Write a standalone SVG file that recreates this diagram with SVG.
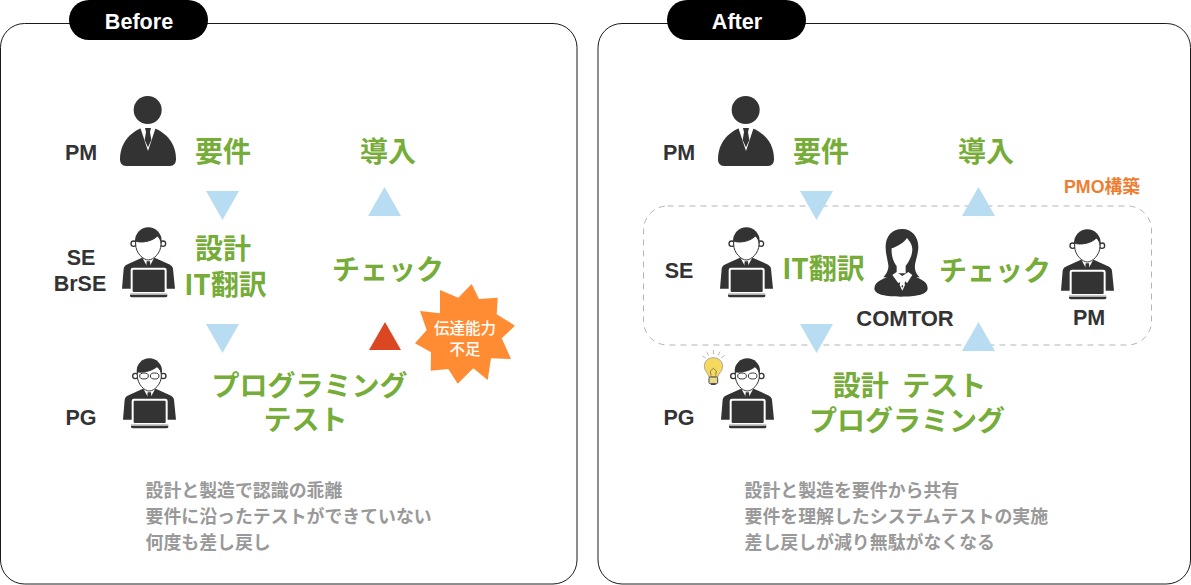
<svg xmlns="http://www.w3.org/2000/svg" width="1191" height="585" viewBox="0 0 1191 585">
<style>
.panel{fill:#fff;stroke:#000;stroke-width:.9}
.pill{fill:#000}
.pt{font:bold 21.600px "Liberation Sans",Arial,sans-serif;fill:#fff;text-anchor:middle}
.role{font:bold 21.500px "Liberation Sans",Arial,sans-serif;fill:#333;text-anchor:middle}
.step{font:bold 28px "Noto Sans CJK JP",sans-serif;fill:#76ac38;text-anchor:middle}
.note{font:bold 17.900px "Noto Sans CJK JP",sans-serif;fill:#999}
.arr{fill:#b8dcf1}
.d{fill:#333}
.w{fill:#fff}
</style>
<defs>
<g id="body">
<path class="d" d="M0 185L5 125Q6 115 20 110L60 92L79 100L98 92L138 110Q152 116 153 125L159 185Z"/>
<path class="w" d="M60 90L79 125L98 90L98 70L60 70Z"/>
<path class="d" d="M74 103L84 103L86 125L79 136L72 125Z"/>
<rect class="w" x="26" y="122" width="108" height="78" rx="7"/>
<rect class="d" x="32" y="128" width="96" height="67" rx="3"/>
<rect x="24" y="198" width="112" height="5" fill="#ccc"/>
<path class="d" d="M24 203H136V207Q136 211 130 211H30Q24 211 24 207Z"/>
</g>
<g id="se">
<use href="#body"/>
<circle cx="35" cy="50" r="8" fill="#fff" stroke="#333" stroke-width="4"/>
<circle cx="123" cy="50" r="8" fill="#fff" stroke="#333" stroke-width="4"/>
<ellipse class="d" cx="79" cy="42" rx="40" ry="41"/>
<path fill="#fff" stroke="#333" stroke-width="3" d="M41 42C52 48 88 46 106 27C113 33 117 40 117 52C117 78 94 99 79 99C64 99 41 78 41 52Z"/>
</g>
<g id="pg">
<use href="#body"/>
<circle cx="37" cy="54" r="8" fill="#fff" stroke="#333" stroke-width="4"/>
<circle cx="121" cy="54" r="8" fill="#fff" stroke="#333" stroke-width="4"/>
<ellipse class="d" cx="79" cy="38" rx="38" ry="37"/>
<path fill="#fff" stroke="#333" stroke-width="3" d="M43 42C56 44 86 40 102 26C111 32 115 40 115 54C115 78 94 99 79 99C64 99 43 78 43 54Z"/>
<g fill="#fff" stroke="#333" stroke-width="3">
<ellipse cx="63" cy="54" rx="13" ry="9"/>
<ellipse cx="95" cy="54" rx="13" ry="9"/>
</g>
</g>
<g id="pm">
<circle class="d" cx="83" cy="42" r="42"/>
<path class="d" d="M0 190C0 140 30 110 66 95L100 95C138 110 168 140 168 190Q168 210 150 210H18Q0 210 0 190Z"/>
<path class="w" d="M60 92L84 165L108 92Z"/>
<path class="d" d="M75 96H93L90 108L94 132L84 154L74 132L78 108Z"/>
</g>
</defs>

<g id="before-panel">
<rect class="panel" x="0.5" y="23.500" width="576.500" height="560.500" rx="24"/>
<rect class="pill" x="69" y="0" width="139" height="40" rx="20"/>
<text class="pt" x="139" y="29">Before</text>
</g>
<g id="after-panel">
<rect class="panel" x="598" y="23.500" width="592.500" height="560.500" rx="24"/>
<rect class="pill" x="667" y="0" width="139" height="40" rx="20"/>
<text class="pt" x="737" y="29">After</text>
</g>

<g id="pmo-box">
<rect x="643.500" y="206" width="508" height="139" rx="24" fill="none" stroke="#b4b4b4" stroke-width="1" stroke-dasharray="6 5"/>
<text x="1102" y="193" text-anchor="middle" style="font:bold 17.800px 'Liberation Sans','Noto Sans CJK JP',sans-serif;fill:#ef7d31">PMO構築</text>
</g>

<g id="connectors">
<path class="arr" d="M206 191H239L222.500 220Z"/>
<path class="arr" d="M368 216H401L384.500 187Z"/>
<path class="arr" d="M206 324H239L222.500 353Z"/>
<path d="M369 350H401L385 322Z" fill="#dc4723"/>
<path class="arr" d="M800 191H833L816.500 220Z"/>
<path class="arr" d="M962 216H995L978.500 187Z"/>
<path class="arr" d="M800 324H833L816.500 353Z"/>
<path class="arr" d="M962 351H995L978.500 322Z"/>
</g>

<g id="before-pm"><use href="#pm" transform="translate(120,96) scale(.3333)"/><text class="role" x="81" y="160">PM</text><text class="step" x="223" y="162">要件</text></g>
<g id="before-se"><use href="#se" transform="translate(122,227) scale(.3333)"/><text class="role" x="81" y="265">SE</text><text class="role" x="80" y="291">BrSE</text><text class="step" x="223" y="259">設計</text><text class="step" x="225.500" y="295">IT翻訳</text></g>
<g id="before-pg"><use href="#pg" transform="translate(123,358) scale(.3333)"/><text class="role" x="81" y="425">PG</text><text class="step" x="309.500" y="396">プログラミング</text><text class="step" x="305.500" y="430">テスト</text></g>
<g id="before-check"><text class="step" x="388" y="162">導入</text><text class="step" x="388" y="280">チェック</text></g>
<g id="star">
<polygon fill="#ff8c33" points="471.700,284 479,299 497.700,297.700 496.700,314.300 515,325.700 501.700,338.300 511,359 491,358.300 487.700,380 473.300,368.300 457.700,383.700 448.300,369 430.700,370.700 431,352.300 415,343.300 426.700,330 420,311 440,313.300 440,290 458.300,297.700"/>
<text x="465" y="334" text-anchor="middle" style="font:500 15.500px 'Noto Sans CJK JP',sans-serif;fill:#fff">伝達能力</text>
<text x="465" y="355" text-anchor="middle" style="font:500 15.500px 'Noto Sans CJK JP',sans-serif;fill:#fff">不足</text>
</g>
<g id="before-note"><text class="note" x="145.500" y="497">設計と製造で認識の乖離</text><text class="note" x="145.500" y="523">要件に沿ったテストができていない</text><text class="note" x="145.500" y="549">何度も差し戻し</text></g>

<g id="after-pm"><use href="#pm" transform="translate(718,96) scale(.3333)"/><text class="role" x="679" y="160">PM</text><text class="step" x="821" y="162">要件</text></g>
<g id="after-se"><use href="#se" transform="translate(720,227) scale(.3333)"/><text class="role" x="679" y="278">SE</text><text class="step" x="823.500" y="279">IT翻訳</text></g>
<g id="after-comtor">
<g transform="translate(865,220) scale(.3333)">
<path class="d" d="M112 27C80 27 60 50 62 85C62 100 68 120 70 135C72 150 62 165 55 172H165C155 165 148 150 150 135C152 120 160 100 160 80C160 50 140 27 112 27Z"/>
<path class="w" d="M80 85C95 80 115 70 126 54C132 62 142 72 142 88C142 110 128 130 122 138V160H95V138C88 130 78 110 80 85Z"/>
<path class="d" d="M28 205C30 180 60 178 85 160L112 200L135 160C160 178 188 180 188 205C188 225 150 230 108 230C65 230 28 225 28 205Z"/>
<path class="w" d="M82 165L100 190L112 172L126 190L142 165L130 156L112 168L95 156Z"/>
<path class="w" d="M108 180L116 180L120 195L112 212L104 195Z"/>
<path class="d" d="M112 195L115 199L112 203L109 199Z"/>
</g>
<text class="role" style="font-size:22px" x="905" y="326">COMTOR</text>
</g>
<g id="after-check"><text class="step" x="986" y="162">導入</text><text class="step" x="995" y="281">チェック</text></g>
<g id="after-lead"><use href="#se" transform="translate(1061,229) scale(.3333)"/><text class="role" x="1089" y="325">PM</text></g>
<g id="after-pg">
<use href="#pg" transform="translate(721,358) scale(.3333)"/>
<g transform="translate(695,345) scale(.3333)">
<path d="M55 38C38 38 28 50 28 64C28 76 38 84 42 96H68C72 84 83 76 83 64C83 50 72 38 55 38Z" fill="#f6d95c" stroke="#999" stroke-width="2.500"/>
<path d="M48 92L46 78L55 70L64 78L62 92" fill="none" stroke="#555" stroke-width="2"/>
<rect x="42" y="96" width="26" height="20" rx="4" fill="#eadb8c" stroke="#444" stroke-width="3"/>
<path d="M48 118H62" stroke="#444" stroke-width="4"/>
<path d="M55 15V28M35 20L41 31M75 20L69 31M22 33L32 39M89 31L78 39" stroke="#aaa" stroke-width="2.500"/>
</g>
<text class="role" x="679" y="425">PG</text><text class="step" x="909.500" y="396" style="word-spacing:.5px" xml:space="preserve">設計  テスト</text><text class="step" x="907" y="431">プログラミング</text>
</g>
<g id="after-note"><text class="note" x="744.500" y="497">設計と製造を要件から共有</text><text class="note" x="744.500" y="523">要件を理解したシステムテストの実施</text><text class="note" x="744.500" y="549">差し戻しが減り無駄がなくなる</text></g>
</svg>
